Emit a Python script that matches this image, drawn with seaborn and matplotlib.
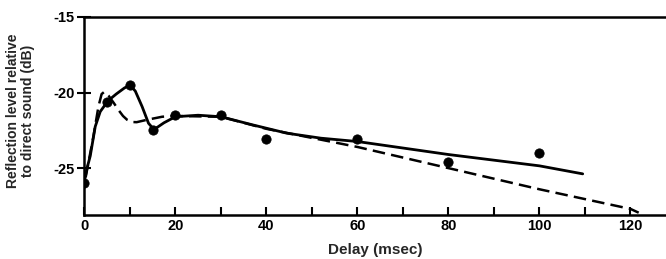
import matplotlib
matplotlib.use("Agg")
import matplotlib.pyplot as plt
import seaborn as sns
import pandas as pd

# Measured points
delay_pts = [0, 5, 10, 15, 20, 30, 40, 60, 80, 100]
level_pts = [-26.0, -20.6, -19.5, -22.5, -21.5, -21.5, -23.1, -23.1, -24.6, -24.0]

# Solid curve
solid_x = [0, 0.6, 1.3, 2.4, 3.5, 5.2, 7.0, 8.8, 10.0, 11.2, 12.7, 14.1, 15.3, 17.5, 20, 25, 30, 37, 44.5, 52, 60, 80, 100, 109.5]
solid_y = [-25.9, -25.0, -24.2, -22.25, -21.26, -20.55, -20.1, -19.7, -19.5, -19.9, -20.93, -22.03, -22.45, -22.0, -21.6, -21.5, -21.6, -22.14, -22.69, -23.02, -23.24, -24.1, -24.85, -25.38]

# Dashed curve
dash_x = [0.3, 0.8, 2.0, 3.1, 3.8, 4.4, 5.3, 6.5, 7.5, 8.5, 9.4, 10.5, 11.5, 13.8, 17.1, 20, 30, 40, 50, 60, 80, 100, 120, 121.8]
dash_y = [-25.6, -24.8, -22.9, -20.93, -20.1, -19.95, -20.2, -20.7, -21.15, -21.55, -21.8, -21.95, -21.96, -21.8, -21.6, -21.55, -21.6, -22.4, -23.0, -23.6, -25.0, -26.4, -27.7, -27.95]

sns.set_theme(style="ticks")
plt.rcParams['font.family'] = ['Liberation Sans', 'DejaVu Sans']

fig = plt.figure(figsize=(6.66, 2.59), dpi=100)
ax = fig.add_axes([0.1266, 0.17, 0.8734, 0.7644])

df_solid = pd.DataFrame({"x": solid_x, "y": solid_y})
df_dash = pd.DataFrame({"x": dash_x, "y": dash_y})
df_pts = pd.DataFrame({"x": delay_pts, "y": level_pts})

sns.lineplot(data=df_solid, x="x", y="y", ax=ax, color="black", lw=2.0, sort=False)
sns.lineplot(data=df_dash, x="x", y="y", ax=ax, color="black", lw=1.8, sort=False)
ax.lines[-1].set_dashes([5, 2.5])
sns.scatterplot(data=df_pts, x="x", y="y", ax=ax, color="black", s=45, edgecolor="black", zorder=5)

ax.set_xlim(0, 127.8)
ax.set_ylim(-28.1, -15)
ax.set_xticks(range(0, 121, 10))
ax.set_xticklabels([str(v) if v % 20 == 0 else "" for v in range(0, 121, 10)])
ax.set_yticks([-25, -20, -15])
ax.set_yticklabels(["-25", "-20", "-15"])
ax.tick_params(axis="x", direction="in", length=6, width=1.5, labelsize=10.5, pad=3, colors="black")
ax.tick_params(axis="y", direction="inout", length=10, width=1.5, labelsize=10.5, pad=2, colors="black")
for lab in ax.get_xticklabels() + ax.get_yticklabels():
    lab.set_fontweight("bold")

for s in ["left", "bottom", "top"]:
    ax.spines[s].set_linewidth(1.8)
    ax.spines[s].set_color("black")
ax.spines["right"].set_visible(False)

ax.set_xlabel("Delay (msec)", fontsize=11, fontweight="bold", labelpad=7)
ax.set_ylabel("Reflection level relative\nto direct sound (dB)", fontsize=10, fontweight="bold", labelpad=9, linespacing=1.1)
ax.yaxis.set_label_coords(-0.085, 0.525)
ax.grid(False)

fig.savefig("out.png", dpi=100)
